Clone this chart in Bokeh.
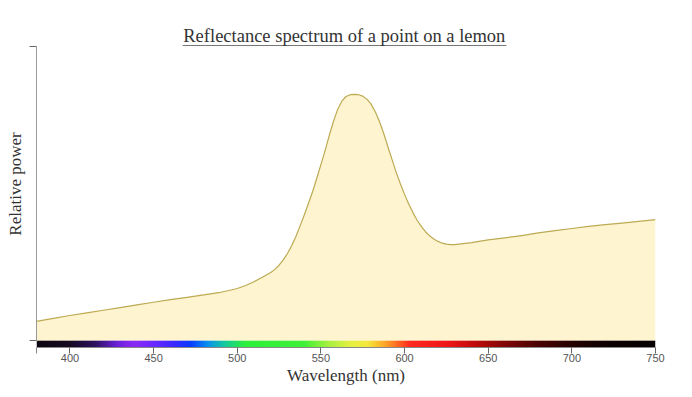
from bokeh.plotting import figure
from bokeh.models import FixedTicker, Label, ColumnDataSource, Range1d
from bokeh.embed import file_html
from bokeh.resources import INLINE

# Reflectance curve (wavelength nm, relative power)
wavelength = [380, 390, 400, 410, 420, 430, 440, 450, 460, 470, 480, 490, 495, 500,
              505, 510, 515, 520, 522.5, 525, 527.5, 530, 532.5, 535, 537.5, 540,
              542.5, 545, 547.5, 550, 552.5, 555, 557.5, 560, 562.5, 565, 567.5, 570,
              572.5, 575, 577.5, 580, 582.5, 585, 587.5, 590, 592.5, 595, 597.5, 600,
              602.5, 605, 607.5, 610, 612.5, 615, 617.5, 620, 622.5, 625, 627.5, 630,
              640, 650, 660, 670, 680, 690, 700, 710, 720, 730, 740, 750]
power = [0.065, 0.075, 0.085, 0.094, 0.103, 0.112, 0.121, 0.130, 0.139, 0.147, 0.155,
         0.164, 0.170, 0.177, 0.187, 0.200, 0.215, 0.231, 0.242, 0.256, 0.274, 0.296,
         0.322, 0.353, 0.389, 0.426, 0.465, 0.506, 0.551, 0.598, 0.646, 0.698, 0.745,
         0.786, 0.814, 0.830, 0.836, 0.837, 0.836, 0.831, 0.821, 0.804, 0.778, 0.745,
         0.705, 0.660, 0.616, 0.572, 0.533, 0.497, 0.464, 0.435, 0.409, 0.388, 0.370,
         0.356, 0.345, 0.337, 0.331, 0.328, 0.326, 0.326, 0.333, 0.342, 0.349, 0.357,
         0.366, 0.374, 0.381, 0.388, 0.394, 0.399, 0.405, 0.411]

# Spectrum bar colour stops
bar_nm = [380, 400, 415, 428, 438, 450, 462, 472, 482, 492, 505, 540, 555, 568, 578,
          590, 603, 625, 642, 660, 680, 700, 720, 750]
bar_colors = ["#0d0610", "#150a22", "#2e1260", "#6a22d8", "#8a2cf2", "#6a28ff",
              "#3b2bff", "#0a3cff", "#0a8cf0", "#12c8a0", "#2cf03a", "#40f038",
              "#a8f040", "#e6f040", "#f4e83c", "#ff9a24", "#ff2a20", "#f01818",
              "#c00c0c", "#800606", "#4a0303", "#250101", "#0e0000", "#050000"]

x_ticks = [400, 450, 500, 550, 600, 650, 700, 750]
x_outer = [380]
y_outer = [0, 1]
title_text = "Reflectance spectrum of a point on a lemon"


def hex2rgb(h):
    return tuple(int(h[i:i + 2], 16) for i in (1, 3, 5))


def lerp_color(nm):
    for i in range(len(bar_nm) - 1):
        a, b = bar_nm[i], bar_nm[i + 1]
        if a <= nm <= b:
            t = (nm - a) / (b - a)
            c1, c2 = hex2rgb(bar_colors[i]), hex2rgb(bar_colors[i + 1])
            c = [round(c1[k] + (c2[k] - c1[k]) * t) for k in range(3)]
            return "#%02x%02x%02x" % tuple(c)
    return bar_colors[-1]


ppu = 294.0
y_start = -7.0 / ppu
y_end = 1.0 + 26.0 / ppu

p = figure(width=690, height=395, output_backend="svg", toolbar_location=None,
           x_range=Range1d(380, 750), y_range=Range1d(y_start, y_end),
           min_border_left=36, min_border_right=35, min_border_top=20,
           min_border_bottom=48)
p.outline_line_color = None
p.grid.grid_line_color = None
p.background_fill_color = "white"
p.border_fill_color = "white"

# spectrum bar
step = 1.0
lefts = [380 + i * step for i in range(int((750 - 380) / step))]
rights = [min(l + step * 1.6, 750) for l in lefts]
cols = [lerp_color(l + step / 2) for l in lefts]
p.quad(left=lefts, right=rights, bottom=y_start, top=0, color=cols, line_color=None)

src = ColumnDataSource(dict(x=wavelength, y=power, z=[0] * len(power)))
p.varea(x="x", y1="z", y2="y", source=src, fill_color="#fff4d0")
p.line(x="x", y="y", source=src, line_color="#bcaa52", line_width=1.2,
       line_join="round")

# title (inside the frame area above the y axis)
p.add_layout(Label(x=564, y=(340 - 35.5) / ppu, text=title_text, text_align="center",
                   text_baseline="middle", text_font="Liberation Serif",
                   text_font_size="18.5px", text_color="#333333"))
p.segment(x0=[467.3], y0=[(340 - 45) / ppu], x1=[660.9], y1=[(340 - 45) / ppu],
          line_color="#777777", line_width=1)

# x axis
xa = p.xaxis[0]
xa.ticker = FixedTicker(ticks=x_ticks, minor_ticks=x_outer)
xa.axis_line_color = "#888888"
xa.major_tick_line_color = "#666666"
xa.major_tick_out = 6
xa.major_tick_in = 0
xa.minor_tick_line_color = "#888888"
xa.minor_tick_out = 6
xa.minor_tick_in = 0
xa.major_label_standoff = 0
xa.major_label_text_font = "Liberation Sans"
xa.major_label_text_font_size = "11px"
xa.major_label_text_color = "#555555"
xa.axis_label = "Wavelength (nm)"
xa.axis_label_text_font = "Liberation Serif"
xa.axis_label_text_font_size = "17px"
xa.axis_label_text_font_style = "normal"
xa.axis_label_text_color = "#333333"
xa.axis_label_standoff = 1

# y axis: only the two outer ticks, no tick labels
ya = p.yaxis[0]
ya.ticker = FixedTicker(ticks=[], minor_ticks=y_outer)
ya.bounds = (0, 1)
ya.axis_line_color = "#999999"
ya.minor_tick_line_color = "#666666"
ya.minor_tick_out = 7
ya.minor_tick_in = 0
ya.major_tick_line_color = None
ya.axis_label = "Relative power"
ya.axis_label_text_font = "Liberation Serif"
ya.axis_label_text_font_size = "17px"
ya.axis_label_text_font_style = "normal"
ya.axis_label_text_color = "#333333"
ya.axis_label_standoff = 5

open("out.html", "w").write(file_html(p, INLINE))
